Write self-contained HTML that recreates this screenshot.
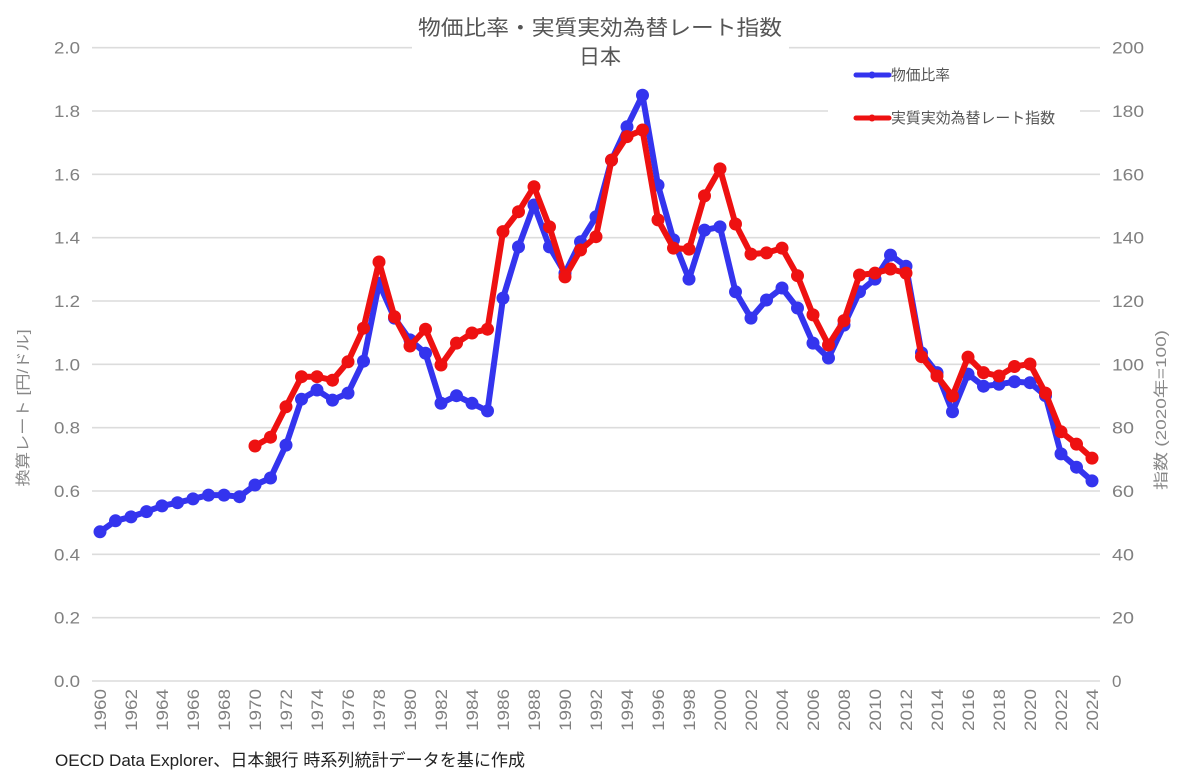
<!DOCTYPE html>
<html><head><meta charset="utf-8"><style>
html,body{margin:0;padding:0;background:#fff;}
svg{display:block;}
text{font-family:"Liberation Sans","Noto Sans CJK JP",sans-serif;}
</style></head><body>
<svg width="1200" height="782" viewBox="0 0 1200 782" xmlns="http://www.w3.org/2000/svg">
<rect width="1200" height="782" fill="#fff"/>
<g stroke="#dcdcdc" stroke-width="1.6">
<line x1="92" y1="681" x2="1100" y2="681"/>
<line x1="92" y1="617.7" x2="1100" y2="617.7"/>
<line x1="92" y1="554.3" x2="1100" y2="554.3"/>
<line x1="92" y1="491" x2="1100" y2="491"/>
<line x1="92" y1="427.7" x2="1100" y2="427.7"/>
<line x1="92" y1="364.3" x2="1100" y2="364.3"/>
<line x1="92" y1="301" x2="1100" y2="301"/>
<line x1="92" y1="237.7" x2="1100" y2="237.7"/>
<line x1="92" y1="174.3" x2="1100" y2="174.3"/>
<line x1="92" y1="111" x2="828" y2="111"/>
<line x1="1080" y1="111" x2="1100" y2="111"/>
<line x1="92" y1="47.7" x2="412" y2="47.7"/>
<line x1="789" y1="47.7" x2="1100" y2="47.7"/>
</g>
<g fill="#808080" font-size="17" text-anchor="end">
<text x="80" y="687" textLength="26" lengthAdjust="spacingAndGlyphs">0.0</text>
<text x="80" y="623.7" textLength="26" lengthAdjust="spacingAndGlyphs">0.2</text>
<text x="80" y="560.3" textLength="26" lengthAdjust="spacingAndGlyphs">0.4</text>
<text x="80" y="497" textLength="26" lengthAdjust="spacingAndGlyphs">0.6</text>
<text x="80" y="433.7" textLength="26" lengthAdjust="spacingAndGlyphs">0.8</text>
<text x="80" y="370.3" textLength="26" lengthAdjust="spacingAndGlyphs">1.0</text>
<text x="80" y="307" textLength="26" lengthAdjust="spacingAndGlyphs">1.2</text>
<text x="80" y="243.7" textLength="26" lengthAdjust="spacingAndGlyphs">1.4</text>
<text x="80" y="180.3" textLength="26" lengthAdjust="spacingAndGlyphs">1.6</text>
<text x="80" y="117" textLength="26" lengthAdjust="spacingAndGlyphs">1.8</text>
<text x="80" y="53.7" textLength="26" lengthAdjust="spacingAndGlyphs">2.0</text>
</g>
<g fill="#808080" font-size="17" text-anchor="start">
<text x="1112" y="687">0</text>
<text x="1112" y="623.7" textLength="22" lengthAdjust="spacingAndGlyphs">20</text>
<text x="1112" y="560.3" textLength="22" lengthAdjust="spacingAndGlyphs">40</text>
<text x="1112" y="497" textLength="22" lengthAdjust="spacingAndGlyphs">60</text>
<text x="1112" y="433.7" textLength="22" lengthAdjust="spacingAndGlyphs">80</text>
<text x="1112" y="370.3" textLength="32" lengthAdjust="spacingAndGlyphs">100</text>
<text x="1112" y="307" textLength="32" lengthAdjust="spacingAndGlyphs">120</text>
<text x="1112" y="243.7" textLength="32" lengthAdjust="spacingAndGlyphs">140</text>
<text x="1112" y="180.3" textLength="32" lengthAdjust="spacingAndGlyphs">160</text>
<text x="1112" y="117" textLength="32" lengthAdjust="spacingAndGlyphs">180</text>
<text x="1112" y="53.7" textLength="32" lengthAdjust="spacingAndGlyphs">200</text>
</g>
<g fill="#808080" font-size="17" text-anchor="end">
<text transform="translate(106,689) rotate(-90)" textLength="42" lengthAdjust="spacingAndGlyphs">1960</text>
<text transform="translate(137,689) rotate(-90)" textLength="42" lengthAdjust="spacingAndGlyphs">1962</text>
<text transform="translate(168,689) rotate(-90)" textLength="42" lengthAdjust="spacingAndGlyphs">1964</text>
<text transform="translate(199,689) rotate(-90)" textLength="42" lengthAdjust="spacingAndGlyphs">1966</text>
<text transform="translate(230,689) rotate(-90)" textLength="42" lengthAdjust="spacingAndGlyphs">1968</text>
<text transform="translate(261,689) rotate(-90)" textLength="42" lengthAdjust="spacingAndGlyphs">1970</text>
<text transform="translate(292,689) rotate(-90)" textLength="42" lengthAdjust="spacingAndGlyphs">1972</text>
<text transform="translate(323,689) rotate(-90)" textLength="42" lengthAdjust="spacingAndGlyphs">1974</text>
<text transform="translate(354,689) rotate(-90)" textLength="42" lengthAdjust="spacingAndGlyphs">1976</text>
<text transform="translate(385,689) rotate(-90)" textLength="42" lengthAdjust="spacingAndGlyphs">1978</text>
<text transform="translate(416,689) rotate(-90)" textLength="42" lengthAdjust="spacingAndGlyphs">1980</text>
<text transform="translate(447,689) rotate(-90)" textLength="42" lengthAdjust="spacingAndGlyphs">1982</text>
<text transform="translate(478,689) rotate(-90)" textLength="42" lengthAdjust="spacingAndGlyphs">1984</text>
<text transform="translate(509,689) rotate(-90)" textLength="42" lengthAdjust="spacingAndGlyphs">1986</text>
<text transform="translate(540,689) rotate(-90)" textLength="42" lengthAdjust="spacingAndGlyphs">1988</text>
<text transform="translate(571,689) rotate(-90)" textLength="42" lengthAdjust="spacingAndGlyphs">1990</text>
<text transform="translate(602,689) rotate(-90)" textLength="42" lengthAdjust="spacingAndGlyphs">1992</text>
<text transform="translate(633,689) rotate(-90)" textLength="42" lengthAdjust="spacingAndGlyphs">1994</text>
<text transform="translate(664,689) rotate(-90)" textLength="42" lengthAdjust="spacingAndGlyphs">1996</text>
<text transform="translate(695,689) rotate(-90)" textLength="42" lengthAdjust="spacingAndGlyphs">1998</text>
<text transform="translate(726,689) rotate(-90)" textLength="42" lengthAdjust="spacingAndGlyphs">2000</text>
<text transform="translate(757,689) rotate(-90)" textLength="42" lengthAdjust="spacingAndGlyphs">2002</text>
<text transform="translate(788,689) rotate(-90)" textLength="42" lengthAdjust="spacingAndGlyphs">2004</text>
<text transform="translate(819,689) rotate(-90)" textLength="42" lengthAdjust="spacingAndGlyphs">2006</text>
<text transform="translate(850,689) rotate(-90)" textLength="42" lengthAdjust="spacingAndGlyphs">2008</text>
<text transform="translate(881,689) rotate(-90)" textLength="42" lengthAdjust="spacingAndGlyphs">2010</text>
<text transform="translate(912,689) rotate(-90)" textLength="42" lengthAdjust="spacingAndGlyphs">2012</text>
<text transform="translate(943,689) rotate(-90)" textLength="42" lengthAdjust="spacingAndGlyphs">2014</text>
<text transform="translate(974,689) rotate(-90)" textLength="42" lengthAdjust="spacingAndGlyphs">2016</text>
<text transform="translate(1005,689) rotate(-90)" textLength="42" lengthAdjust="spacingAndGlyphs">2018</text>
<text transform="translate(1036,689) rotate(-90)" textLength="42" lengthAdjust="spacingAndGlyphs">2020</text>
<text transform="translate(1067,689) rotate(-90)" textLength="42" lengthAdjust="spacingAndGlyphs">2022</text>
<text transform="translate(1098,689) rotate(-90)" textLength="42" lengthAdjust="spacingAndGlyphs">2024</text>
</g>
<text transform="translate(28,408) rotate(-90)" text-anchor="middle" fill="#888" font-size="15" textLength="157" lengthAdjust="spacingAndGlyphs">換算レート [円/ドル]</text>
<text transform="translate(1166,410) rotate(-90)" text-anchor="middle" fill="#888" font-size="15" textLength="160" lengthAdjust="spacingAndGlyphs">指数 (2020年=100)</text>
<text x="600" y="35" text-anchor="middle" fill="#555" font-size="21" textLength="364" lengthAdjust="spacingAndGlyphs">物価比率・実質実効為替レート指数</text>
<text x="600" y="64" text-anchor="middle" fill="#555" font-size="21">日本</text>
<line x1="856" y1="75" x2="889" y2="75" stroke="#3434ee" stroke-width="5" stroke-linecap="round"/>
<circle cx="872" cy="75" r="3.5" fill="#3434ee"/>
<text x="891" y="80" fill="#555" font-size="15" textLength="59" lengthAdjust="spacingAndGlyphs">物価比率</text>
<line x1="856" y1="118" x2="889" y2="118" stroke="#ee1111" stroke-width="5" stroke-linecap="round"/>
<circle cx="872" cy="118" r="3.5" fill="#ee1111"/>
<text x="891" y="123" fill="#555" font-size="15" textLength="164" lengthAdjust="spacingAndGlyphs">実質実効為替レート指数</text>
<g id="blue" fill="#3434ee">
<polyline fill="none" stroke="#3434ee" stroke-width="6" stroke-linejoin="round" points="100,531.8 115.5,520.8 131,516.9 146.5,511.6 162,505.9 177.5,502.7 193,498.9 208.5,495.1 224,495.1 239.5,496.7 255,485 270.5,478 286,445.1 301.5,399.2 317,390 332.5,400.1 348,393.1 363.5,361.2 379,283.3 394.5,318.1 410,339.9 425.5,353.2 441,403.3 456.5,395.7 472,403.3 487.5,410.9 503,298.1 518.5,246.9 534,205 549.5,246.9 565,273.1 580.5,241.8 596,216.8 611.5,160.1 627,126.8 642.5,95.2 658,185.1 673.5,239.9 689,279.1 704.5,230.1 720,226.9 735.5,291.8 751,318.1 766.5,300 782,288 797.5,308 813,343.1 828.5,358 844,325.1 859.5,291.8 875,279.1 890.5,255.1 906,266.2 921.5,352.9 937,372.6 952.5,411.8 968,374.1 983.5,386.2 999,384.3 1014.5,381.7 1030,382.7 1045.5,395.7 1061,453.9 1076.5,467.2 1092,480.9"/>
<circle cx="100" cy="531.8" r="6.5"/><circle cx="115.5" cy="520.8" r="6.5"/><circle cx="131" cy="516.9" r="6.5"/><circle cx="146.5" cy="511.6" r="6.5"/><circle cx="162" cy="505.9" r="6.5"/><circle cx="177.5" cy="502.7" r="6.5"/><circle cx="193" cy="498.9" r="6.5"/><circle cx="208.5" cy="495.1" r="6.5"/><circle cx="224" cy="495.1" r="6.5"/><circle cx="239.5" cy="496.7" r="6.5"/><circle cx="255" cy="485" r="6.5"/><circle cx="270.5" cy="478" r="6.5"/><circle cx="286" cy="445.1" r="6.5"/><circle cx="301.5" cy="399.2" r="6.5"/><circle cx="317" cy="390" r="6.5"/><circle cx="332.5" cy="400.1" r="6.5"/><circle cx="348" cy="393.1" r="6.5"/><circle cx="363.5" cy="361.2" r="6.5"/><circle cx="379" cy="283.3" r="6.5"/><circle cx="394.5" cy="318.1" r="6.5"/><circle cx="410" cy="339.9" r="6.5"/><circle cx="425.5" cy="353.2" r="6.5"/><circle cx="441" cy="403.3" r="6.5"/><circle cx="456.5" cy="395.7" r="6.5"/><circle cx="472" cy="403.3" r="6.5"/><circle cx="487.5" cy="410.9" r="6.5"/><circle cx="503" cy="298.1" r="6.5"/><circle cx="518.5" cy="246.9" r="6.5"/><circle cx="534" cy="205" r="6.5"/><circle cx="549.5" cy="246.9" r="6.5"/><circle cx="565" cy="273.1" r="6.5"/><circle cx="580.5" cy="241.8" r="6.5"/><circle cx="596" cy="216.8" r="6.5"/><circle cx="611.5" cy="160.1" r="6.5"/><circle cx="627" cy="126.8" r="6.5"/><circle cx="642.5" cy="95.2" r="6.5"/><circle cx="658" cy="185.1" r="6.5"/><circle cx="673.5" cy="239.9" r="6.5"/><circle cx="689" cy="279.1" r="6.5"/><circle cx="704.5" cy="230.1" r="6.5"/><circle cx="720" cy="226.9" r="6.5"/><circle cx="735.5" cy="291.8" r="6.5"/><circle cx="751" cy="318.1" r="6.5"/><circle cx="766.5" cy="300" r="6.5"/><circle cx="782" cy="288" r="6.5"/><circle cx="797.5" cy="308" r="6.5"/><circle cx="813" cy="343.1" r="6.5"/><circle cx="828.5" cy="358" r="6.5"/><circle cx="844" cy="325.1" r="6.5"/><circle cx="859.5" cy="291.8" r="6.5"/><circle cx="875" cy="279.1" r="6.5"/><circle cx="890.5" cy="255.1" r="6.5"/><circle cx="906" cy="266.2" r="6.5"/><circle cx="921.5" cy="352.9" r="6.5"/><circle cx="937" cy="372.6" r="6.5"/><circle cx="952.5" cy="411.8" r="6.5"/><circle cx="968" cy="374.1" r="6.5"/><circle cx="983.5" cy="386.2" r="6.5"/><circle cx="999" cy="384.3" r="6.5"/><circle cx="1014.5" cy="381.7" r="6.5"/><circle cx="1030" cy="382.7" r="6.5"/><circle cx="1045.5" cy="395.7" r="6.5"/><circle cx="1061" cy="453.9" r="6.5"/><circle cx="1076.5" cy="467.2" r="6.5"/><circle cx="1092" cy="480.9" r="6.5"/>
</g>
<g id="red" fill="#ee1111">
<polyline fill="none" stroke="#ee1111" stroke-width="6" stroke-linejoin="round" points="255,446 270.5,437.2 286,406.8 301.5,376.7 317,376.7 332.5,380.2 348,361.8 363.5,328.2 379,262 394.5,316.8 410,346 425.5,329.2 441,365 456.5,343.1 472,333 487.5,329.2 503,231.6 518.5,211.7 534,186.7 549.5,226.9 565,276.9 580.5,250 596,236.7 611.5,160.1 627,136.6 642.5,130 658,219.9 673.5,248.1 689,249.1 704.5,195.9 720,168.9 735.5,224 751,254.1 766.5,252.9 782,248.1 797.5,275.7 813,314.9 828.5,345 844,320.6 859.5,275 875,273.1 890.5,269 906,273.1 921.5,356.7 937,376 952.5,396 968,357.1 983.5,372.6 999,376 1014.5,366.5 1030,364 1045.5,393.1 1061,431.8 1076.5,444.1 1092,458.1"/>
<circle cx="255" cy="446" r="6.5"/><circle cx="270.5" cy="437.2" r="6.5"/><circle cx="286" cy="406.8" r="6.5"/><circle cx="301.5" cy="376.7" r="6.5"/><circle cx="317" cy="376.7" r="6.5"/><circle cx="332.5" cy="380.2" r="6.5"/><circle cx="348" cy="361.8" r="6.5"/><circle cx="363.5" cy="328.2" r="6.5"/><circle cx="379" cy="262" r="6.5"/><circle cx="394.5" cy="316.8" r="6.5"/><circle cx="410" cy="346" r="6.5"/><circle cx="425.5" cy="329.2" r="6.5"/><circle cx="441" cy="365" r="6.5"/><circle cx="456.5" cy="343.1" r="6.5"/><circle cx="472" cy="333" r="6.5"/><circle cx="487.5" cy="329.2" r="6.5"/><circle cx="503" cy="231.6" r="6.5"/><circle cx="518.5" cy="211.7" r="6.5"/><circle cx="534" cy="186.7" r="6.5"/><circle cx="549.5" cy="226.9" r="6.5"/><circle cx="565" cy="276.9" r="6.5"/><circle cx="580.5" cy="250" r="6.5"/><circle cx="596" cy="236.7" r="6.5"/><circle cx="611.5" cy="160.1" r="6.5"/><circle cx="627" cy="136.6" r="6.5"/><circle cx="642.5" cy="130" r="6.5"/><circle cx="658" cy="219.9" r="6.5"/><circle cx="673.5" cy="248.1" r="6.5"/><circle cx="689" cy="249.1" r="6.5"/><circle cx="704.5" cy="195.9" r="6.5"/><circle cx="720" cy="168.9" r="6.5"/><circle cx="735.5" cy="224" r="6.5"/><circle cx="751" cy="254.1" r="6.5"/><circle cx="766.5" cy="252.9" r="6.5"/><circle cx="782" cy="248.1" r="6.5"/><circle cx="797.5" cy="275.7" r="6.5"/><circle cx="813" cy="314.9" r="6.5"/><circle cx="828.5" cy="345" r="6.5"/><circle cx="844" cy="320.6" r="6.5"/><circle cx="859.5" cy="275" r="6.5"/><circle cx="875" cy="273.1" r="6.5"/><circle cx="890.5" cy="269" r="6.5"/><circle cx="906" cy="273.1" r="6.5"/><circle cx="921.5" cy="356.7" r="6.5"/><circle cx="937" cy="376" r="6.5"/><circle cx="952.5" cy="396" r="6.5"/><circle cx="968" cy="357.1" r="6.5"/><circle cx="983.5" cy="372.6" r="6.5"/><circle cx="999" cy="376" r="6.5"/><circle cx="1014.5" cy="366.5" r="6.5"/><circle cx="1030" cy="364" r="6.5"/><circle cx="1045.5" cy="393.1" r="6.5"/><circle cx="1061" cy="431.8" r="6.5"/><circle cx="1076.5" cy="444.1" r="6.5"/><circle cx="1092" cy="458.1" r="6.5"/>
</g>
<text x="55" y="766" fill="#222" font-size="17" textLength="470" lengthAdjust="spacingAndGlyphs">OECD Data Explorer、日本銀行 時系列統計データを基に作成</text>
</svg>
</body></html>
